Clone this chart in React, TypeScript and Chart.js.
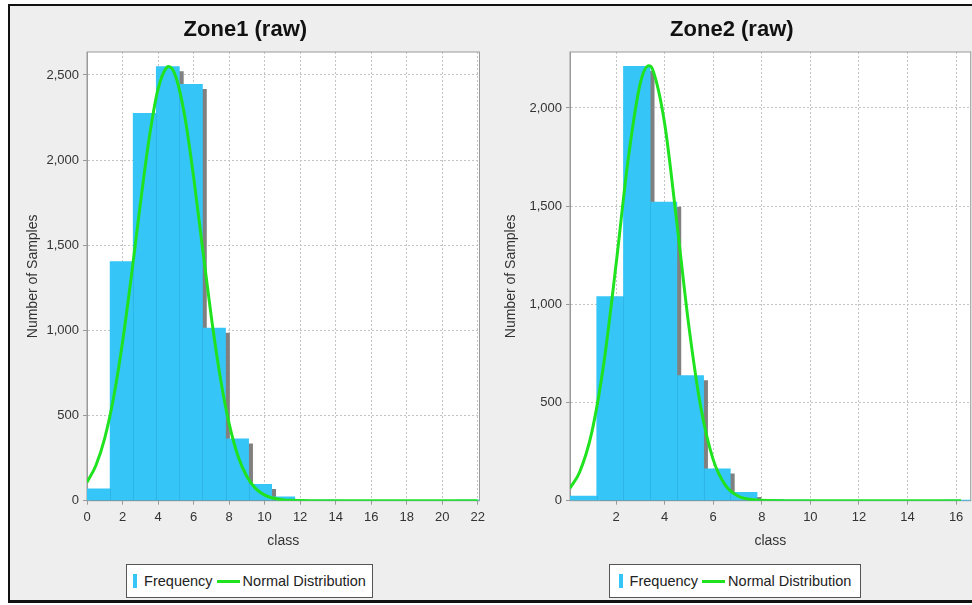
import React, { useEffect, useRef } from 'react';
import { Chart, registerables } from 'chart.js';

Chart.register(...registerables);

const FONT = '"Liberation Sans", Arial, sans-serif';
const BAR_COLOR = '#35c5f7';
const CURVE_COLOR = '#1fe31f';
const SHADOW_COLOR = '#808080';
const GRID_COLOR = '#c4c4c4';
const AXIS_COLOR = '#9a9a9a';
const TEXT_COLOR = '#333333';

// ---- Zone1: 17 bins of width 1.3 starting at 0 ----
const zone1BinCenters = [0.65, 1.95, 3.25, 4.55, 5.85, 7.15, 8.45, 9.75, 11.05, 12.35, 13.65, 14.95, 16.25, 17.55, 18.85, 20.15, 21.45];
const zone1Counts = [70, 1404, 2275, 2549, 2445, 1013, 364, 96, 23, 3, 1, 0, 0, 0, 0, 0, 1];
const zone1CurveX = [0, 0.5, 1, 1.5, 2, 2.5, 3, 3.5, 4, 4.5, 4.6, 5, 5.5, 6, 6.5, 7, 7.5, 8, 8.5, 9, 9.5, 10, 10.5, 11, 11.5, 12, 13, 14, 16, 18, 20, 22];
const zone1CurveY = [108, 207, 368, 607, 930, 1320, 1740, 2128, 2417, 2546, 2550, 2490, 2260, 1903, 1488, 1079, 727, 454, 263, 142, 71, 33, 14, 6, 2, 1, 0, 0, 0, 0, 0, 0];
const zone1XTicks = [0, 2, 4, 6, 8, 10, 12, 14, 16, 18, 20, 22];
const zone1YTicks = [0, 500, 1000, 1500, 2000, 2500];

// ---- Zone2: 15 bins of width 1.1 starting at 0.106 ----
const zone2BinCenters = [0.656, 1.756, 2.856, 3.956, 5.056, 6.156, 7.256, 8.356, 9.456, 10.556, 11.656, 12.756, 13.856, 14.956, 16.056];
const zone2Counts = [24, 1040, 2212, 1521, 637, 162, 43, 6, 1, 0, 0, 0, 0, 0, 1];
const zone2CurveX = [0.106, 0.5, 1, 1.5, 2, 2.5, 3, 3.35, 3.5, 4, 4.5, 5, 5.5, 6, 6.5, 7, 7.5, 8, 9, 10, 12, 14, 16.2];
const zone2CurveY = [64, 145, 347, 701, 1201, 1738, 2126, 2215, 2198, 1922, 1420, 888, 469, 209, 79, 25, 7, 2, 0, 0, 0, 0, 0];
const zone2XTicks = [2, 4, 6, 8, 10, 12, 14, 16];
const zone2YTicks = [0, 500, 1000, 1500, 2000];

type PanelSpec = {
  title: string;
  binCenters: number[];
  counts: number[];
  curveX: number[];
  curveY: number[];
  xTicks: number[];
  yTicks: number[];
  xMin: number;
  xMax: number;
  yMax: number;
  yTitlePad: number;
};

const zone1: PanelSpec = {
  title: 'Zone1 (raw)',
  binCenters: zone1BinCenters,
  counts: zone1Counts,
  curveX: zone1CurveX,
  curveY: zone1CurveY,
  xTicks: zone1XTicks,
  yTicks: zone1YTicks,
  xMin: 0,
  xMax: 22.1,
  yMax: 2635,
  yTitlePad: 14.6,
};

const zone2: PanelSpec = {
  title: 'Zone2 (raw)',
  binCenters: zone2BinCenters,
  counts: zone2Counts,
  curveX: zone2CurveX,
  curveY: zone2CurveY,
  xTicks: zone2XTicks,
  yTicks: zone2YTicks,
  xMin: 0.106,
  xMax: 16.6,
  yMax: 2285,
  yTitlePad: 9.6,
};

// White plot background plus a thin frame around the data area
const plotFramePlugin = {
  id: 'plotFrame',
  beforeDraw(chart: any) {
    const { ctx, chartArea: a } = chart;
    ctx.save();
    ctx.fillStyle = '#ffffff';
    ctx.fillRect(a.left, a.top, a.right - a.left, a.bottom - a.top);
    ctx.restore();
  },
  beforeDatasetsDraw(chart: any) {
    const { ctx, chartArea: a } = chart;
    ctx.save();
    ctx.strokeStyle = AXIS_COLOR;
    ctx.lineWidth = 1;
    ctx.strokeRect(a.left, a.top, a.right - a.left, a.bottom - a.top);
    ctx.restore();
  },
};

// Drop shadow behind each histogram bar, and faint seams between neighbours
const barShadowPlugin = {
  id: 'barShadow',
  beforeDatasetDraw(chart: any, args: any) {
    if (args.meta.type !== 'bar') return;
    const ctx = chart.ctx;
    ctx.save();
    ctx.shadowColor = SHADOW_COLOR;
    ctx.shadowOffsetX = 4;
    ctx.shadowOffsetY = 5;
    ctx.shadowBlur = 0;
  },
  afterDatasetDraw(chart: any, args: any) {
    if (args.meta.type !== 'bar') return;
    const ctx = chart.ctx;
    ctx.restore();
    const a = chart.chartArea;
    const els = args.meta.data;
    ctx.save();
    ctx.beginPath();
    ctx.rect(a.left, a.top, a.right - a.left, a.bottom - a.top);
    ctx.clip();
    ctx.strokeStyle = 'rgba(20, 120, 170, 0.2)';
    ctx.lineWidth = 1;
    for (let i = 1; i < els.length; i++) {
      const prev = els[i - 1];
      const cur = els[i];
      const top = Math.max(prev.y, cur.y);
      if (cur.base - top < 2) continue;
      const x = Math.round(cur.x - cur.width / 2) + 0.5;
      ctx.beginPath();
      ctx.moveTo(x, top);
      ctx.lineTo(x, cur.base);
      ctx.stroke();
    }
    ctx.restore();
  },
};

const fmt = (v: number | string) => Number(v).toLocaleString('en-US');

function buildConfig(spec: PanelSpec): any {
  const tickFont = { family: FONT, size: 13 };
  const titleFont = { family: FONT, size: 14 };
  return {
    type: 'bar',
    data: {
      datasets: [
        {
          type: 'line',
          label: 'Normal Distribution',
          data: spec.curveX.map((x, i) => ({ x, y: spec.curveY[i] })),
          borderColor: CURVE_COLOR,
          borderWidth: 3,
          pointRadius: 0,
          pointHoverRadius: 0,
          fill: false,
          cubicInterpolationMode: 'monotone',
          order: 0,
        },
        {
          type: 'bar',
          label: 'Frequency',
          data: spec.binCenters.map((x, i) => ({ x, y: spec.counts[i] })),
          backgroundColor: BAR_COLOR,
          borderWidth: 0,
          barPercentage: 1,
          categoryPercentage: 1,
          clip: 0,
          order: 1,
        },
      ],
    },
    options: {
      responsive: false,
      animation: false,
      devicePixelRatio: 1,
      events: [],
      layout: { padding: { left: 0, right: 9.3, top: 0, bottom: 0 } },
      plugins: {
        legend: { display: false },
        tooltip: { enabled: false },
        title: {
          display: true,
          text: spec.title,
          color: '#111111',
          font: { family: FONT, size: 22, weight: 'bold' },
          padding: { top: 9.8, bottom: 8.8 },
        },
      },
      scales: {
        x: {
          type: 'linear',
          bounds: 'data',
          min: spec.xMin,
          max: spec.xMax,
          offset: false,
          afterBuildTicks: (scale: any) => {
            scale.ticks = spec.xTicks.map((value) => ({ value }));
          },
          afterFit: (scale: any) => {
            scale.height = 59.3;
          },
          grid: {
            offset: false,
            color: GRID_COLOR,
            lineWidth: 1,
            tickColor: AXIS_COLOR,
            tickLength: 4,
            tickBorderDash: [],
          },
          border: { display: true, color: AXIS_COLOR, dash: [2, 2] },
          ticks: {
            font: tickFont,
            color: TEXT_COLOR,
            padding: 5,
            maxRotation: 0,
            autoSkip: false,
            callback: fmt,
          },
          title: {
            display: true,
            text: 'class',
            color: TEXT_COLOR,
            font: titleFont,
            padding: { top: 0, bottom: 10.6 },
          },
        },
        y: {
          type: 'linear',
          bounds: 'data',
          min: 0,
          max: spec.yMax,
          afterBuildTicks: (scale: any) => {
            scale.ticks = spec.yTicks.map((value) => ({ value }));
          },
          afterFit: (scale: any) => {
            scale.width = 77;
          },
          grid: {
            color: GRID_COLOR,
            lineWidth: 1,
            tickColor: AXIS_COLOR,
            tickLength: 4,
            tickBorderDash: [],
          },
          border: { display: true, color: AXIS_COLOR, dash: [2, 2] },
          ticks: {
            font: tickFont,
            color: TEXT_COLOR,
            padding: 4,
            autoSkip: false,
            callback: fmt,
          },
          title: {
            display: true,
            text: 'Number of Samples',
            color: TEXT_COLOR,
            font: titleFont,
            padding: { top: spec.yTitlePad, bottom: 0 },
          },
        },
      },
    },
    plugins: [plotFramePlugin, barShadowPlugin],
  };
}

function HistogramPanel({ spec, left, width }: { spec: PanelSpec; left: number; width: number }) {
  const ref = useRef<HTMLCanvasElement>(null);
  useEffect(() => {
    if (!ref.current) return;
    const chart = new Chart(ref.current, buildConfig(spec));
    return () => chart.destroy();
  }, [spec]);
  return (
    <canvas
      ref={ref}
      width={width}
      height={553}
      style={{ position: 'absolute', left, top: 7, width, height: 553 }}
    />
  );
}

function Legend({ left, width }: { left: number; width: number }) {
  return (
    <div
      style={{
        position: 'absolute',
        left,
        top: 564,
        width,
        height: 34,
        boxSizing: 'border-box',
        border: '1px solid #555555',
        background: '#ffffff',
        display: 'flex',
        alignItems: 'center',
        justifyContent: 'center',
        fontFamily: FONT,
        fontSize: 14.5,
        color: '#222222',
        whiteSpace: 'nowrap',
      }}
    >
      <span style={{ display: 'inline-block', width: 4, height: 14, background: BAR_COLOR, marginRight: 7 }} />
      <span>Frequency</span>
      <span style={{ display: 'inline-block', width: 23, height: 3, background: CURVE_COLOR, margin: '0 3px 0 4px' }} />
      <span>Normal Distribution</span>
    </div>
  );
}

export default function App() {
  return (
    <div
      style={{
        position: 'fixed',
        left: 0,
        top: 0,
        width: 972,
        height: 605,
        background: '#ffffff',
        overflow: 'hidden',
      }}
    >
      <div
        style={{
          position: 'absolute',
          left: 8,
          top: 4,
          width: 1000,
          height: 599,
          boxSizing: 'border-box',
          borderStyle: 'solid',
          borderColor: '#111111',
          borderWidth: '2px 0 3px 2px',
          background: '#eeeeee',
        }}
      />
      <HistogramPanel spec={zone1} left={10} width={480} />
      <HistogramPanel spec={zone2} left={493} width={487} />
      <Legend left={126} width={247} />
      <Legend left={609} width={252} />
    </div>
  );
}
